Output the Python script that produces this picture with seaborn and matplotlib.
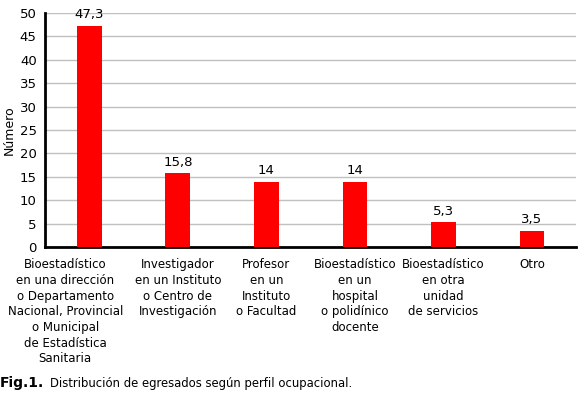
import matplotlib
matplotlib.use("Agg")
import matplotlib.pyplot as plt
import matplotlib.transforms as mtransforms
import seaborn as sns
import pandas as pd

categories = [
    "Bioestadístico\nen una dirección\no Departamento\nNacional, Provincial\no Municipal\nde Estadística\nSanitaria",
    "Investigador\nen un Instituto\no Centro de\nInvestigación",
    "Profesor\nen un\nInstituto\no Facultad",
    "Bioestadístico\nen un\nhospital\no polidínico\ndocente",
    "Bioestadístico\nen otra\nunidad\nde servicios",
    "Otro",
]
values = [47.3, 15.8, 14, 14, 5.3, 3.5]
value_labels = ["47,3", "15,8", "14", "14", "5,3", "3,5"]
yticks = [0, 5, 10, 15, 20, 25, 30, 35, 40, 45, 50]

sns.set_style("white")
plt.rcParams["font.family"] = ["DejaVu Sans"]
plt.rcParams["font.size"] = 9
plt.rcParams["text.color"] = "black"
plt.rcParams["axes.labelcolor"] = "black"
plt.rcParams["xtick.color"] = "black"
plt.rcParams["ytick.color"] = "black"

df = pd.DataFrame({"cat": list(range(len(categories))), "val": values})

fig = plt.figure(figsize=(5.8, 3.94), dpi=100)
ax = fig.add_axes([0.0776, 0.373, 0.916, 0.594])

sns.barplot(data=df, x="cat", y="val", color="#ff0000", width=0.28,
            saturation=1, linewidth=0, ax=ax, zorder=3)

ax.set_ylim(0, 50)
ax.set_xlim(-0.5, len(categories) - 0.5)
ax.set_yticks(yticks)
ax.yaxis.grid(True, color="#c0c0c0", linewidth=1, zorder=0)
ax.set_axisbelow(True)

# category boundaries as major ticks, labels on minor ticks
ax.set_xticks([i - 0.5 for i in range(len(categories) + 1)])
ax.set_xticklabels([])
ax.set_xticks(range(len(categories)), minor=True)
ax.set_xticklabels(categories, minor=True, fontsize=8.5, linespacing=1.27)
ax.tick_params(axis="x", which="major", direction="out", length=5, width=1, color="black")
ax.tick_params(axis="x", which="minor", length=0, pad=8)
ax.tick_params(axis="y", direction="out", length=4, width=1, color="black", labelsize=9.5, pad=2)

# first label is pushed left so it does not run into the second
first = ax.get_xticklabels(minor=True)[0]
first.set_transform(first.get_transform() +
                    mtransforms.ScaledTranslation(-24 / 100, 0, fig.dpi_scale_trans))

for side in ["top", "right"]:
    ax.spines[side].set_visible(False)
for side in ["left", "bottom"]:
    ax.spines[side].set_color("black")
    ax.spines[side].set_linewidth(2)

ax.set_xlabel("")
ax.set_ylabel("Número", fontsize=9, labelpad=3)

ax.bar_label(ax.containers[0], labels=value_labels, padding=3, fontsize=9.5, color="black")

fig.text(0.0, 0.018, "Fig.1.", fontsize=10, fontweight="bold", va="baseline")
fig.text(50 / 580, 0.018, "Distribución de egresados según perfil ocupacional.",
         fontsize=8.4, va="baseline")

fig.savefig("out.png", dpi=100)
